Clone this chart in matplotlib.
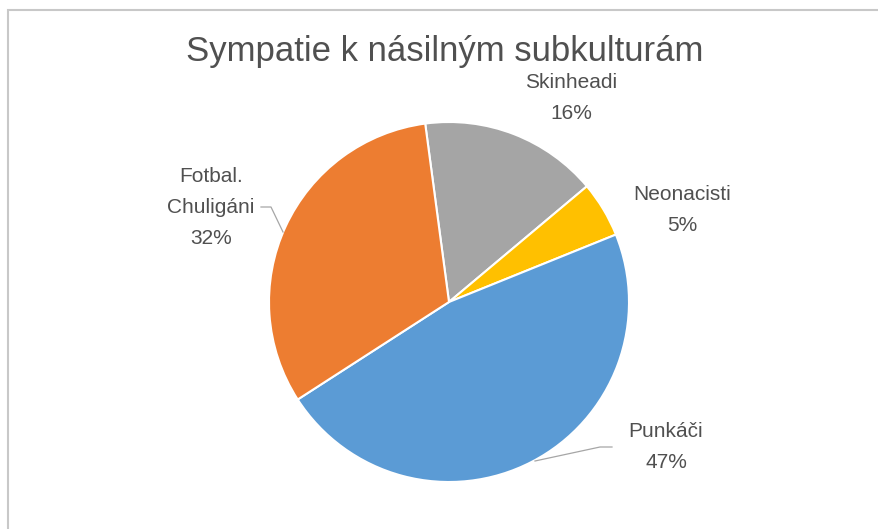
import numpy as np
import matplotlib
matplotlib.use("Agg")
import matplotlib.pyplot as plt
from matplotlib.patches import Rectangle

# data
categories = ["Skinheadi", "Neonacisti", "Punkáči", "Fotbal.\nChuligáni"]
shares = [16, 5, 47, 32]
colors = ["#A5A5A5", "#FFC000", "#5B9BD5", "#ED7D31"]
title = "Sympatie k násilným subkulturám"

W, H = 879, 529
CX, CY, R = 449, 302, 180  # pie centre / radius in pixels

plt.rcParams["font.family"] = ["Liberation Sans", "DejaVu Sans"]
text_color = "#505050"

fig = plt.figure(figsize=(W / 100, H / 100), dpi=100)
fig.patch.set_facecolor("white")

# chart area border
fig.add_artist(Rectangle((8 / W, -0.1), 1.2, (H - 10) / H + 0.1, transform=fig.transFigure,
                         fill=False, edgecolor="#C8C8C8", linewidth=1.5))

ax = fig.add_axes([(CX - R) / W, (H - CY - R) / H, 2 * R / W, 2 * R / H])
ax.pie(shares, colors=colors, startangle=97.6, counterclock=False, radius=1.0,
       wedgeprops=dict(edgecolor="white", linewidth=1.5))
ax.set_xlim(-1, 1)
ax.set_ylim(-1, 1)
ax.set_aspect("equal")
ax.axis("off")


def px(x, y):
    return (x - CX) / R, (CY - y) / R


# label placements in pixel coords (centre of label block)
label_pos = [(571, 98), (682, 210), (666, 447), (211, 207)]
for name, val, (lx, ly) in zip(categories, shares, label_pos):
    x, y = px(lx, ly)
    ax.text(x, y, f"{name}\n{val}%", ha="center", va="center", fontsize=15,
            color=text_color, linespacing=1.8, clip_on=False)

# leader lines
for pts in ([(261, 207), (271, 207), (283, 232)],
            [(612, 447), (600, 447), (535, 461)]):
    xs, ys = zip(*[px(a, b) for a, b in pts])
    ax.plot(xs, ys, color="#A6A6A6", linewidth=0.9, clip_on=False)

fig.text(445 / W, 1 - 51 / H, title, ha="center", va="center", fontsize=25, color=text_color)

fig.savefig("out.png", dpi=100, facecolor="white")
